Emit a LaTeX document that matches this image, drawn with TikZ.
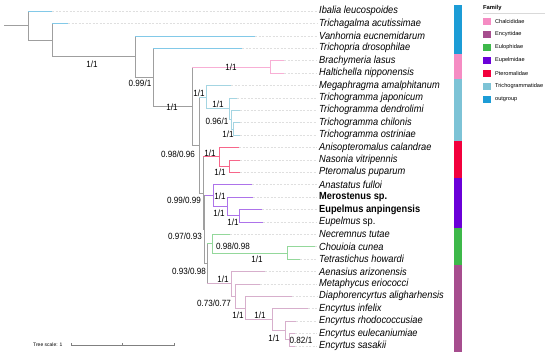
\documentclass[tikz,border=0pt]{standalone}
\usepackage{fontspec}
\setmainfont{Liberation Sans}
\newfontfamily\narrowsf[FakeStretch=0.9]{Liberation Sans}
\usetikzlibrary{positioning,calc}
\definecolor{outgrp}{HTML}{1C9CD6}
\definecolor{chalc}{HTML}{F58CC3}
\definecolor{encyr}{HTML}{A64D8E}
\definecolor{euloph}{HTML}{3DB84A}
\definecolor{eupelm}{HTML}{6A00D8}
\definecolor{pterom}{HTML}{F2003C}
\definecolor{trichog}{HTML}{7DC3D6}
% lighter shades for the branches
\colorlet{bbc}{gray!75}
\colorlet{ogc}{outgrp!55}
\colorlet{chc}{chalc!70}
\colorlet{trc}{trichog!70}
\colorlet{ptc}{pterom!60}
\colorlet{epc}{eupelm!55}
\colorlet{elc}{euloph!55}
\colorlet{enc}{encyr!45}
\tikzset{
  br/.style    ={line width=0.5pt},
  guide/.style ={draw=gray!25, line width=0.3pt, dash pattern=on 2pt off 1.5pt},
  taxon/.style ={anchor=west, inner sep=0pt, font=\narrowsf\itshape\fontsize{10.3}{12}\selectfont},
  supp/.style  ={inner sep=0pt, font=\narrowsf\fontsize{9}{10}\selectfont},
  legsq/.style ={draw=none, minimum width=7.5pt, minimum height=6.8pt, inner sep=0pt},
  legtxt/.style={inner sep=0pt, anchor=west, font=\fontsize{5.6}{6}\selectfont},
}
\def\nodelist{root/28/25.45, N1/52/39.9, N2/135/56.4, N3/153/77.05, N4/192/105.9,
  N5/270/66.8, N6/199/145.05, N7/206/97, T1/229/108.65, T2/231/119.5, T3/233/128.8,
  N8/203/193.1, P1/219/156.7, P2/229/166, N9/204.5/229.5, E1/213/195.45,
  E2/227/206.3, E3/239/215.6, N10/207/263.6, L1/212/243.5, L2/287/252.8,
  C0/231/283.6, X/235/295.8, Y/245/307.8, Z/272/319.45, Z2/285/330.3, Z3/289/339.6}
\def\tiplist{0/52/Ibalia leucospoides, 1/68/Trichagalma acutissimae,
  2/255/Vanhornia eucnemidarum, 3/242/Trichopria drosophilae,
  4/284/Brachymeria lasus, 5/284/Haltichella nipponensis,
  6/231/Megaphragma amalphitanum, 7/237/Trichogramma japonicum,
  8/240/Trichogramma dendrolimi, 9/240/Trichogramma chilonis,
  10/240/Trichogramma ostriniae, 11/239/Anisopteromalus calandrae,
  12/240/Nasonia vitripennis, 13/240/Pteromalus puparum,
  14/252/Anastatus fulloi, 15/253/{\upshape\bfseries Merostenus sp.},
  16/262/{\upshape\bfseries Eupelmus anpingensis}, 17/263/{Eupelmus \upshape sp.},
  18/230/Necremnus tutae, 19/315/Chouioia cunea, 20/300/Tetrastichus howardi,
  21/265/Aenasius arizonensis, 22/260/Metaphycus eriococci,
  23/292/Diaphorencyrtus aligharhensis, 24/308/Encyrtus infelix,
  25/296/Encyrtus rhodococcusiae, 26/295/Encyrtus eulecaniumiae,
  27/295/Encyrtus sasakii}
\def\edgelist{root/t0/bbc/ogc, root/N1/bbc/bbc, N1/t1/bbc/ogc, N1/N2/bbc/bbc,
  N2/t2/bbc/ogc, N2/N3/bbc/bbc, N3/t3/bbc/ogc, N3/N4/bbc/bbc,
  N4/N5/bbc/chc, N4/N6/bbc/bbc, N5/t4/chc/chc, N5/t5/chc/chc,
  N6/N7/bbc/trc, N6/N8/bbc/bbc, N7/t6/trc/trc, N7/T1/trc/trc,
  T1/t7/trc/trc, T1/T2/trc/trc, T2/t8/trc/trc, T2/T3/trc/trc,
  T3/t9/trc/trc, T3/t10/trc/trc,
  N8/P1/bbc/ptc, N8/N9/bbc/bbc, P1/t11/ptc/ptc, P1/P2/ptc/ptc,
  P2/t12/ptc/ptc, P2/t13/ptc/ptc,
  N9/E1/bbc/epc, N9/N10/bbc/bbc, E1/t14/epc/epc, E1/E2/epc/epc,
  E2/t15/epc/epc, E2/E3/epc/epc, E3/t16/epc/epc, E3/t17/epc/epc,
  N10/L1/bbc/elc, N10/C0/bbc/enc, L1/t18/elc/elc, L1/L2/elc/elc,
  L2/t19/elc/elc, L2/t20/elc/elc,
  C0/t21/enc/enc, C0/X/enc/enc, X/t22/enc/enc, X/Y/enc/enc,
  Y/t23/enc/enc, Y/Z/enc/enc, Z/t24/enc/enc, Z/Z2/enc/enc,
  Z2/t25/enc/enc, Z2/Z3/enc/enc, Z3/t26/enc/enc, Z3/t27/enc/enc}
\def\supplist{s1/92/64/1/1, s2/140/83/0.99/1, s3/172/107/1/1, s4/231/67/1/1,
  s5/199/93/1/1, s6/218/104/1/1, s7/217/121/0.96/1, s8/228/134/1/1,
  s9/178/154/0.98/0.96, s10/210/153/1/1, s11/220/172/1/1, s12/184/200/0.99/0.99,
  s13/220/196/1/1, s14/219/213/1/1, s15/233/222/1/1, s16/185/236/0.97/0.93,
  s17/233/246/0.98/0.98, s18/257/259/1/1, s19/189/271/0.93/0.98,
  s20/223/279/1/1, s21/214/303/0.73/0.77, s22/238/315/1/1, s23/260/315/1/1,
  s24/274/338/1/1, s25/301/340/0.82/1}

\begin{document}
\begin{tikzpicture}[x=1pt,y=-1pt]
\useasboundingbox (0,0) rectangle (550,358);
\fill[white] (0,0) rectangle (550,358);
\foreach \n/\x/\y in \nodelist {\coordinate (\n) at (\x,\y);}
\foreach \i/\x/\txt in \tiplist {
  \coordinate (t\i) at (\x,{11+12.4*\i});
  \node[taxon] (lab\i) at (319,{11+12.4*\i}) {\txt};
  \draw[guide] (t\i) -- ([xshift=-2pt]lab\i.west);
}
% tree
\coordinate (stub) at (4,25.45);
\draw[br,draw=bbc] (stub) -- (root);
\foreach \p/\c/\pc/\cc in \edgelist {
  \draw[br,draw=\pc] (\p) -- (\p |- \c);
  \draw[br,draw=\cc] (\p |- \c) -- (\c);
}
\foreach \n/\x/\y/\a/\b in \supplist {\node[supp] (\n) at (\x,\y) {\a/\b};}
% family strip
\foreach \a/\b/\cc in {0/3/outgrp, 4/5/chalc, 6/10/trichog, 11/13/pterom,
  14/17/eupelm, 18/20/euloph, 21/27/encyr}
  {\fill[fill=\cc] (454,{11+12.4*\a-6.2}) rectangle (462,{11+12.4*\b+6.2});}
% legend
\node[inner sep=0pt, anchor=west, font=\bfseries\fontsize{5.8}{6}\selectfont] (famhd) at (483,8) {Family};
\draw[gray!30, line width=0.4pt] (483,13) -- (545,13);
\foreach \k/\cc/\nm in {0/chalc/Chalcididae, 1/encyr/Encyrtidae, 2/euloph/Eulophidae,
  3/eupelm/Eupelmidae, 4/pterom/Pteromalidae, 5/trichog/Trichogrammatidae, 6/outgrp/outgroup}
  {\node[legsq, fill=\cc] (sq\k) at (487,{21.3+13*\k}) {};
   \node[legtxt, right=4pt of sq\k] (lg\k) {\nm};}
% scale bar
\node[inner sep=0pt, anchor=west, font=\fontsize{5}{6}\selectfont] (sclab) at (33,345) {Tree scale: 1};
\coordinate (sb0) at (71,345);
\coordinate (sb1) at (174,345);
\draw[gray, line width=0.5pt] (sb0) -- (sb1);
\foreach \t in {0,0.5,1} \draw[gray, line width=0.4pt] ($(sb0)!\t!(sb1)$) ++(0,-1.5) -- ++(0,3);
\end{tikzpicture}
\end{document}
